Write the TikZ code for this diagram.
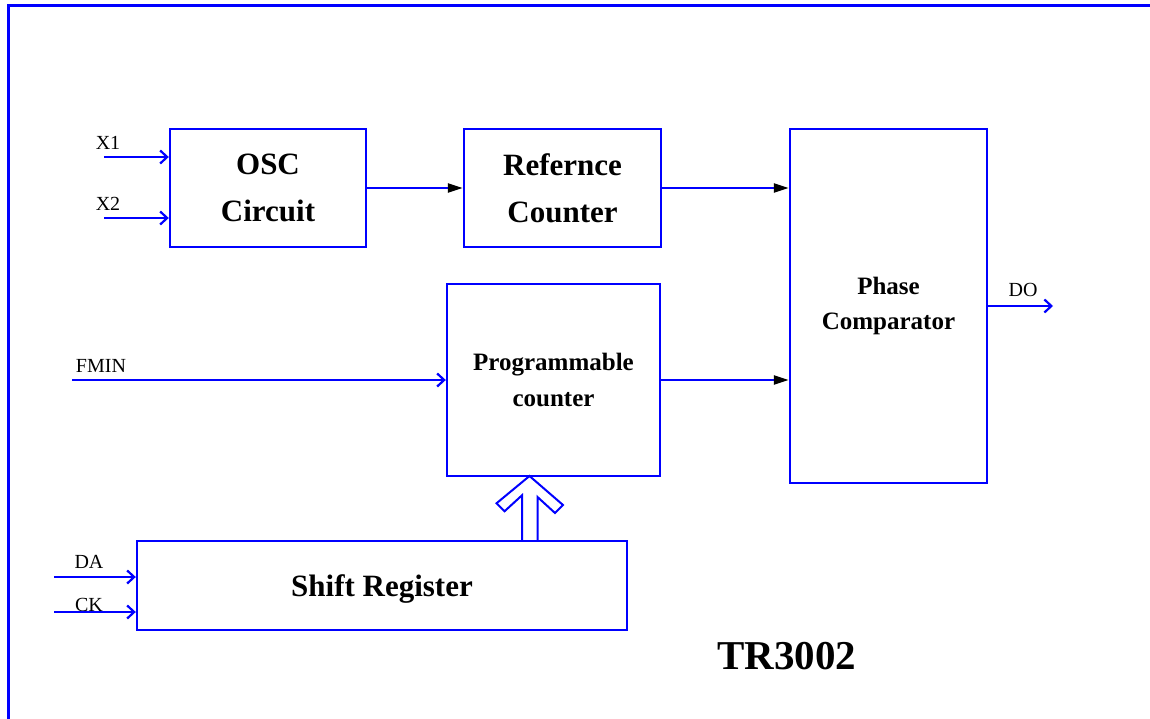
\documentclass[tikz,border=0pt]{standalone}
\usepackage{fontspec}
\setmainfont{Liberation Serif}
\usepackage{tikz}
\usetikzlibrary{arrows.meta,positioning}

\begin{document}
\begin{tikzpicture}[x=1pt,y=-1pt,
  blk/.style={draw=blue,line width=2.4pt,align=center,font=\bfseries},
  lbl/.style={inner sep=0pt,font=\fontsize{20}{24}\selectfont},
  wire/.style={blue,line width=2.4pt,-{Straight Barb[length=7pt,width=13pt,line width=2.2pt]}},
  feed/.style={blue,line width=2.4pt,-{Triangle[length=15pt,width=9pt,color=black]}}]
\useasboundingbox (0,0) rectangle (1150,719);

% Frame
\draw[blue,line width=3pt] (8,719) -- (8,6) -- (1150,6);

% Blocks
\node[blk,minimum width=196pt,minimum height=118pt,font=\bfseries\fontsize{31}{47}\selectfont]
  (osc) at (268,188) {OSC\\Circuit};
\node[blk,minimum width=197pt,minimum height=118pt,font=\bfseries\fontsize{31}{47}\selectfont]
  (ref) at (562.5,188) {Refernce\\Counter};
\node[blk,minimum width=197pt,minimum height=354pt,font=\bfseries\fontsize{25}{35}\selectfont]
  (phase) at (888.5,306) {Phase\\Comparator};
\node[blk,minimum width=213pt,minimum height=192pt,font=\bfseries\fontsize{25}{36}\selectfont]
  (prog) at (553.5,380) {Programmable\\counter};
\node[blk,minimum width=490pt,minimum height=89pt,font=\bfseries\fontsize{31}{40}\selectfont,
  text depth=0pt] (shift) at (382,585.5) {Shift Register};

% Input and output labels
\node[lbl] (x1lbl) at (108,143) {X1};
\node[lbl] (x2lbl) at (108,204) {X2};
\node[lbl] (fminlbl) at (101,366) {FMIN};
\node[lbl] (dolbl) at (1023,290) {DO};
\node[lbl] (dalbl) at (89,562) {DA};
\node[lbl] (cklbl) at (89,605) {CK};

% Free ends of the wires
\coordinate (x1) at (104,157);
\coordinate (x2) at (104,218);
\coordinate (fmin) at (72,380);
\coordinate (do) at (1053,306);
\coordinate (da) at (54,577);
\coordinate (ck) at (54,612);

% Inputs
\draw[wire] (x1) -- (x1 -| osc.west);
\draw[wire] (x2) -- (x2 -| osc.west);
\draw[wire] (fmin) -- (fmin -| prog.west);
\draw[wire] (da) -- (da -| shift.west);
\draw[wire] (ck) -- (ck -| shift.west);

% Signal path
\draw[feed] (osc.east) -- (ref.west);
\draw[feed] (ref.east) -- (ref.east -| phase.west);
\draw[feed] (prog.east) -- (prog.east -| phase.west);
\draw[wire] (phase.east) -- (do);

% Data bus arrow into the counter
\coordinate (bus) at (529.5,476);
\draw[blue,line width=2pt,line join=miter]
  (bus |- shift.north) ++(-7.5,0) -- ++(0,-44.5) -- ++(-17.5,16) -- ++(-8,-8)
  -- (bus) -- ++(33.5,29) -- ++(-8,8) -- ++(-17.5,-16) -- ++(0,44.5);

% Part number
\node[font=\bfseries\fontsize{41}{48}\selectfont] (part) at (787,656) {TR3002};
\end{tikzpicture}
\end{document}
